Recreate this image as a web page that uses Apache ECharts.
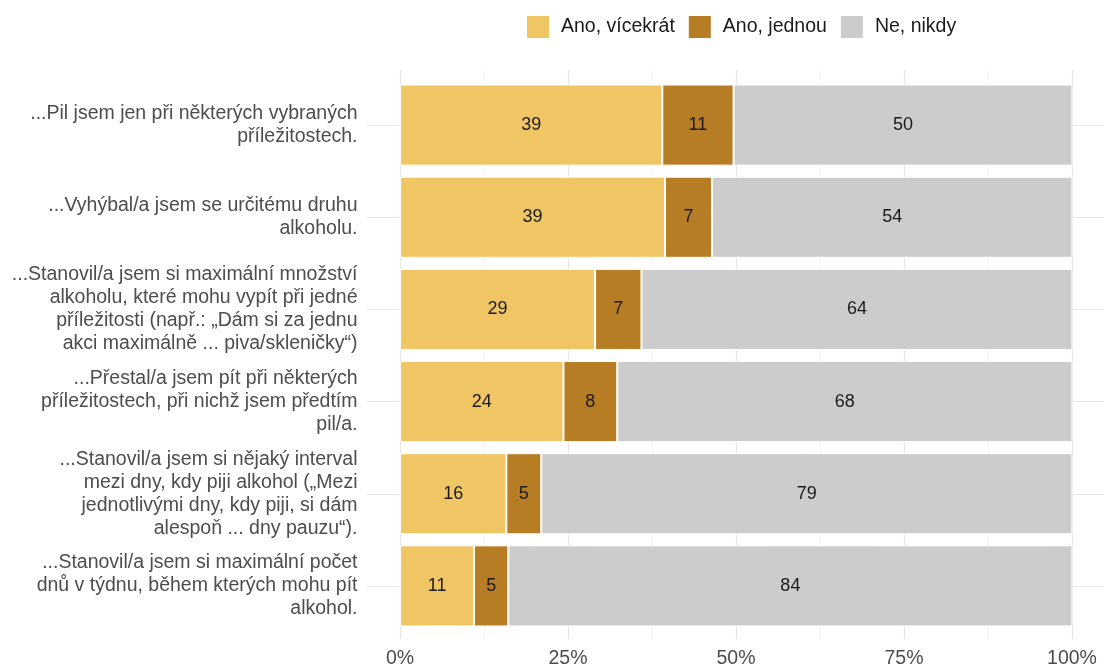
<!DOCTYPE html>
<html>
<head>
<meta charset="utf-8">
<script src="https://cdn.jsdelivr.net/npm/echarts@6/dist/echarts.min.js"></script>
<style>
  html, body { margin: 0; padding: 0; background: #fff; }
  #chart { width: 1104px; height: 669px; }
</style>
</head>
<body>
<div id="chart"></div>
<script>
// kategorie (shora dolů)
var categories = [
  '...Pil jsem jen při některých vybraných\npříležitostech.',
  '...Vyhýbal/a jsem se určitému druhu\nalkoholu.',
  '...Stanovil/a jsem si maximální množství\nalkoholu, které mohu vypít při jedné\npříležitosti (např.: „Dám si za jednu\nakci maximálně ... piva/skleničky“)',
  '...Přestal/a jsem pít při některých\npříležitostech, při nichž jsem předtím\npil/a.',
  '...Stanovil/a jsem si nějaký interval\nmezi dny, kdy piji alkohol („Mezi\njednotlivými dny, kdy piji, si dám\nalespoň ... dny pauzu“).',
  '...Stanovil/a jsem si maximální počet\ndnů v týdnu, během kterých mohu pít\nalkohol.'
];

// hodnoty v procentech
var anoVicekrat = [39, 39.4, 29, 24.3, 15.8, 11];
var anoJednou   = [10.6, 7, 6.9, 8, 5.2, 5.1];
var neNikdy     = [50.4, 53.6, 64.1, 67.7, 79, 83.9];

var seriesNames = ['Ano, vícekrát', 'Ano, jednou', 'Ne, nikdy'];
var colors = ['#F0C563', '#B67D24', '#CCCCCC'];
var xTicks = [0, 25, 50, 75, 100];

var font = 'Liberation Sans, Arial, sans-serif';
var chart = echarts.init(document.getElementById('chart'));

function barSeries(name, data, color) {
  return {
    name: name,
    type: 'bar',
    stack: 'total',
    xAxisIndex: 0,
    yAxisIndex: 0,
    barWidth: '88%',
    z: 3,
    data: data,
    itemStyle: { color: color, borderColor: '#fff', borderWidth: 1 },
    label: {
      show: true,
      position: 'inside',
      color: '#1a1a1a',
      fontFamily: font,
      fontSize: 18,
      formatter: function (p) { return Math.round(p.value); }
    }
  };
}

chart.setOption({
  animation: false,
  color: colors,
  legend: {
    top: 9,
    left: 520,
    itemWidth: 24,
    itemHeight: 24,
    itemGap: 12,
    icon: 'rect',
    data: seriesNames,
    textStyle: { fontFamily: font, fontSize: 19.5, color: '#1a1a1a', padding: [0, 0, 0, 6] }
  },
  grid: [
    // panel s pruhy (ggplot rozšíření os, vpravo oříznutý okrajem)
    { left: 366.5, right: 0, top: 79, bottom: 37 },
    // panel pro svislou mřížku a popisky osy x
    { left: 400, right: 32, top: 70, bottom: 27 }
  ],
  xAxis: [
    {
      gridIndex: 0, type: 'value', min: -5, max: 104.7,
      show: false, splitLine: { show: false }
    },
    {
      gridIndex: 1, type: 'value', min: 0, max: 100, interval: 25,
      axisLine: { show: false },
      axisTick: { show: false },
      axisLabel: {
        margin: 10, color: '#4d4d4d', fontFamily: font, fontSize: 19.5,
        customValues: xTicks,
        formatter: '{value}%'
      },
      splitLine: { show: true, lineStyle: { color: '#e6e6e6', width: 1.2 } },
      minorTick: { show: false, splitNumber: 2 },
      minorSplitLine: { show: true, lineStyle: { color: '#f2f2f2', width: 0.8 } }
    }
  ],
  yAxis: [
    {
      gridIndex: 0, type: 'category', data: categories, inverse: true,
      axisLine: { show: false },
      axisTick: { show: false },
      splitLine: { show: false },
      axisLabel: {
        margin: 9, color: '#4d4d4d', fontFamily: font, fontSize: 19.5,
        lineHeight: 23, align: 'right'
      }
    },
    {
      gridIndex: 1, type: 'value', min: 0, max: 1, show: false,
      splitLine: { show: false }
    }
  ],
  series: [
    {
      // vodorovná mřížka ve středech kategorií
      type: 'line',
      xAxisIndex: 0,
      yAxisIndex: 0,
      data: [],
      silent: true,
      z: 1,
      markLine: {
        silent: true,
        z: 1,
        symbol: 'none',
        label: { show: false },
        lineStyle: { color: '#e6e6e6', width: 1.2, type: 'solid' },
        data: categories.map(function (c, i) { return { yAxis: i }; })
      }
    },
    barSeries(seriesNames[0], anoVicekrat, colors[0]),
    barSeries(seriesNames[1], anoJednou, colors[1]),
    barSeries(seriesNames[2], neNikdy, colors[2])
  ]
});
</script>
</body>
</html>
